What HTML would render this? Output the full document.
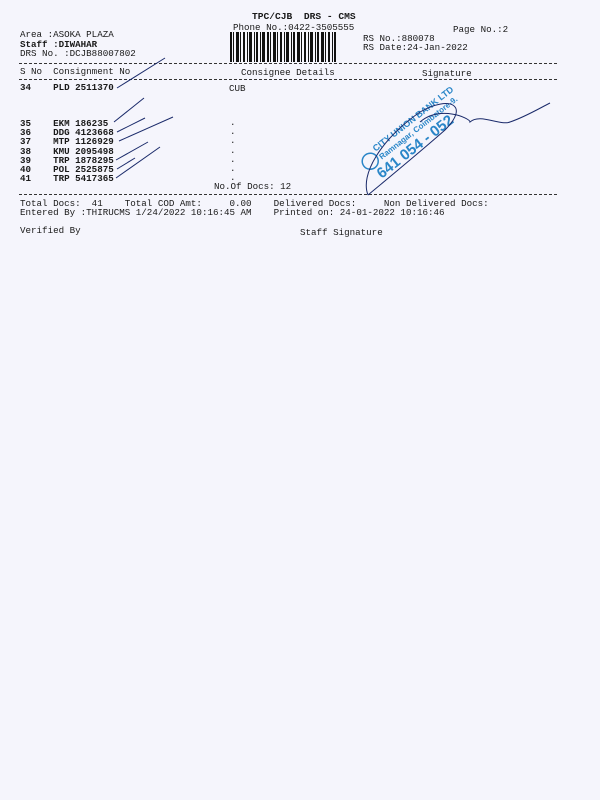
<!DOCTYPE html>
<html><head><meta charset="utf-8"><style>
html,body{margin:0;padding:0;}
body{width:600px;height:800px;background:#f5f5fc;position:relative;overflow:hidden;font-family:"Liberation Mono",monospace;font-size:9.2px;color:#1a1a1a;}
.t{position:absolute;white-space:pre;line-height:9.2px;}
.b{font-weight:bold;}
.d{position:absolute;left:19px;width:538px;border-top:1px dashed #333;height:0;}
</style></head><body>
<div class="t b" style="left:252px;top:12px;font-size:9.6px">TPC/CJB  DRS - CMS</div>
<div class="t" style="left:233px;top:23px">Phone No.:0422-3505555</div>
<div class="t" style="left:453px;top:25px">Page No.:2</div>
<div class="t" style="left:20px;top:30px">Area :ASOKA PLAZA</div>
<div class="t b" style="left:20px;top:40px">Staff :DIWAHAR</div>
<div class="t" style="left:20px;top:49px">DRS No. :DCJB88007802</div>
<div class="t" style="left:363px;top:34px">RS No.:880078</div>
<div class="t" style="left:363px;top:43px">RS Date:24-Jan-2022</div>
<svg style="position:absolute;left:230px;top:32px" width="106" height="30">
<g fill="#111">
<rect x="0" y="0" width="2" height="30"/><rect x="3" y="0" width="1" height="30"/><rect x="6" y="0" width="3" height="30"/><rect x="10" y="0" width="1" height="30"/><rect x="13" y="0" width="2" height="30"/><rect x="17" y="0" width="1" height="30"/><rect x="19" y="0" width="3" height="30"/><rect x="24" y="0" width="1" height="30"/><rect x="26" y="0" width="2" height="30"/><rect x="30" y="0" width="1" height="30"/><rect x="32" y="0" width="3" height="30"/><rect x="37" y="0" width="2" height="30"/><rect x="40" y="0" width="1" height="30"/><rect x="43" y="0" width="3" height="30"/><rect x="47" y="0" width="1" height="30"/><rect x="50" y="0" width="2" height="30"/><rect x="54" y="0" width="1" height="30"/><rect x="56" y="0" width="3" height="30"/><rect x="61" y="0" width="1" height="30"/><rect x="63" y="0" width="2" height="30"/><rect x="67" y="0" width="3" height="30"/><rect x="71" y="0" width="1" height="30"/><rect x="74" y="0" width="2" height="30"/><rect x="78" y="0" width="1" height="30"/><rect x="80" y="0" width="3" height="30"/><rect x="85" y="0" width="1" height="30"/><rect x="87" y="0" width="2" height="30"/><rect x="91" y="0" width="3" height="30"/><rect x="95" y="0" width="1" height="30"/><rect x="98" y="0" width="2" height="30"/><rect x="102" y="0" width="1" height="30"/><rect x="104" y="0" width="2" height="30"/>
</g></svg>
<div class="d" style="top:63px"></div>
<div class="t" style="left:20px;top:67px">S No  Consignment No</div>
<div class="t" style="left:241px;top:68px">Consignee Details</div>
<div class="t" style="left:422px;top:69px">Signature</div>
<div class="d" style="top:79px"></div>
<div class="t b" style="left:20px;top:83px">34    PLD 2511370</div>
<div class="t" style="left:229px;top:84px">CUB</div>
<div class="t b" style="left:20px;top:119px">35    EKM 186235
36    DDG 4123668
37    MTP 1126929
38    KMU 2095498
39    TRP 1878295
40    POL 2525875
41    TRP 5417365</div>
<div class="t" style="left:230px;top:118px">.
.
.
.
.
.
.</div>
<div class="t" style="left:214px;top:182px">No.Of Docs: 12</div>
<div class="d" style="top:194px"></div>
<div class="t" style="left:20px;top:199px">Total Docs:  41    Total COD Amt:     0.00    Delivered Docs:     Non Delivered Docs:</div>
<div class="t" style="left:20px;top:208px">Entered By :THIRUCMS 1/24/2022 10:16:45 AM    Printed on: 24-01-2022 10:16:46</div>
<div class="t" style="left:20px;top:226px">Verified By</div>
<div class="t" style="left:300px;top:228px">Staff Signature</div>
<svg style="position:absolute;left:0;top:0" width="600" height="260">
<g fill="none" stroke="#1a2a6a" stroke-width="1">
<path d="M117 88 L165 58"/><path d="M114 122 L144 98"/><path d="M117 132 L145 118"/><path d="M119 141 L173 117"/><path d="M116 160 L148 142"/><path d="M117 169 L135 158"/><path d="M116 178 L160 147"/>
</g>
<g transform="translate(372,170) rotate(-38)" fill="#2a86c8" font-family="Liberation Sans,sans-serif" font-weight="bold">
<circle cx="4" cy="-8" r="8" fill="none" stroke="#2a86c8" stroke-width="1.5"/>
<text x="14" y="-12" font-size="9">CITY UNION BANK LTD</text>
<text x="14" y="-2" font-size="8">Ramnagar, Coimbatore-9.</text>
<text x="2" y="13" font-size="15">641 054 - 052</text>
</g>
<path d="M368 195 C360 175 380 140 420 112 C450 95 470 105 445 130 C420 152 380 185 368 195 M420 122 C440 105 470 118 470 122 C480 113 500 126 510 122 C525 117 540 108 550 103" fill="none" stroke="#1a2a6a" stroke-width="1"/>
</svg>
</body></html>
